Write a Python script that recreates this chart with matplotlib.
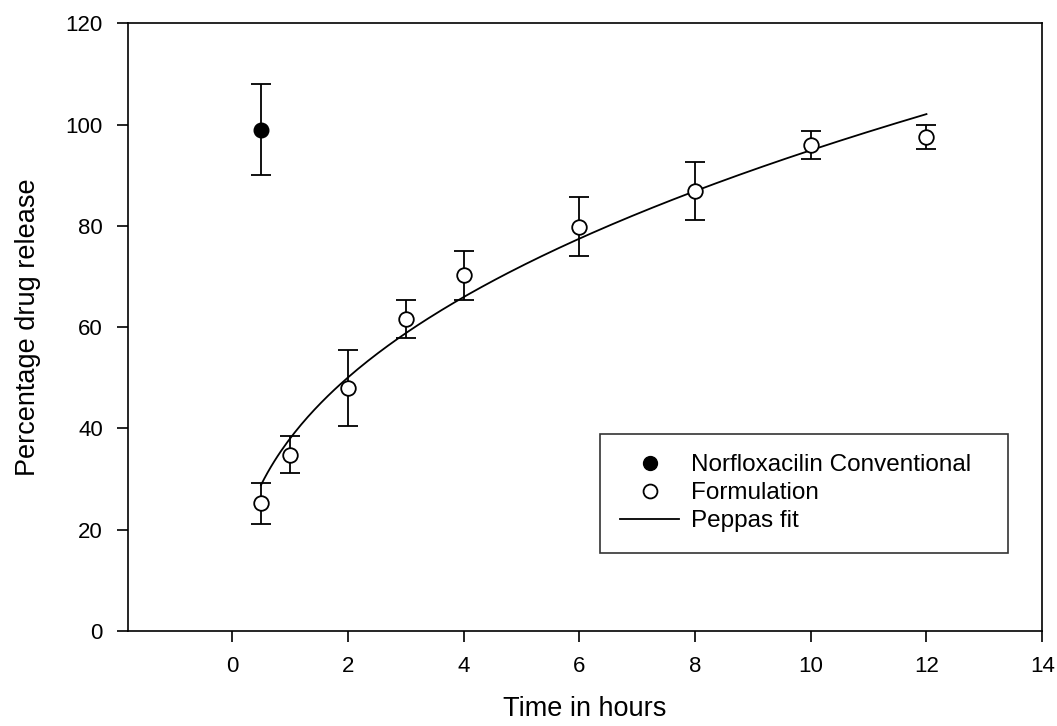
import numpy as np
import matplotlib.pyplot as plt
from matplotlib.lines import Line2D

plt.rcParams['font.family'] = ['Liberation Sans', 'DejaVu Sans']

# Norfloxacilin conventional
conv_t = [0.5]
conv_y = [99.0]
conv_err = [9.0]

# Formulation
form_t = [0.5, 1, 2, 3, 4, 6, 8, 10, 12]
form_y = [25.2, 34.8, 48.0, 61.6, 70.2, 79.8, 86.8, 96.0, 97.6]
form_err = [4.0, 3.7, 7.5, 3.8, 4.8, 5.8, 5.7, 2.8, 2.4]

# Peppas fit parameters (y = k * t^n)
peppas_k = 37.96
peppas_n = 0.398

fig = plt.figure(figsize=(10.57, 7.26), dpi=100)
ax = fig.add_axes([0.121, 0.131, 0.865, 0.837])

fit_t = np.linspace(0.5, 12, 200)
fit_y = peppas_k * fit_t ** peppas_n

ax.errorbar(conv_t, conv_y, yerr=conv_err, fmt='o', color='black', mfc='black',
            markersize=10.5, capsize=7.5, elinewidth=1.3, capthick=1.3, zorder=3)
ax.errorbar(form_t, form_y, yerr=form_err, fmt='o', color='black', mfc='white',
            markersize=10.5, capsize=7.5, elinewidth=1.3, capthick=1.3, mew=1.3,
            zorder=3)
ax.plot(fit_t, fit_y, color='black', lw=1.3, zorder=2)

ax.set_xlim(-1.8, 14)
ax.set_ylim(0, 120)
ax.set_xticks(range(0, 15, 2))
ax.set_yticks(range(0, 121, 20))
ax.tick_params(direction='out', length=8, width=1.2, labelsize=16, pad=10)
for s in ax.spines.values():
    s.set_linewidth(1.2)

ax.set_xlabel('Time in hours', fontsize=19.5, labelpad=14)
ax.set_ylabel('Percentage drug release', fontsize=19.5, labelpad=18)

handles = [
    Line2D([], [], ls='none', marker='o', color='black', mfc='black', markersize=10),
    Line2D([], [], ls='none', marker='o', color='black', mfc='white', markersize=10, mew=1.3),
    Line2D([], [], color='black', lw=1.3),
]
labels = ['Norfloxacilin Conventional', 'Formulation', 'Peppas fit']
leg = ax.legend(handles, labels, loc='lower left', bbox_to_anchor=(0.516, 0.128, 0.447, 0.196),
                mode='expand', fontsize=17.5, frameon=True, fancybox=False,
                edgecolor='black', handlelength=2.4, handletextpad=0.5,
                borderpad=0.85, labelspacing=0.25, borderaxespad=0)
leg.get_frame().set_linewidth(1.2)

fig.savefig('out.png', dpi=100)
